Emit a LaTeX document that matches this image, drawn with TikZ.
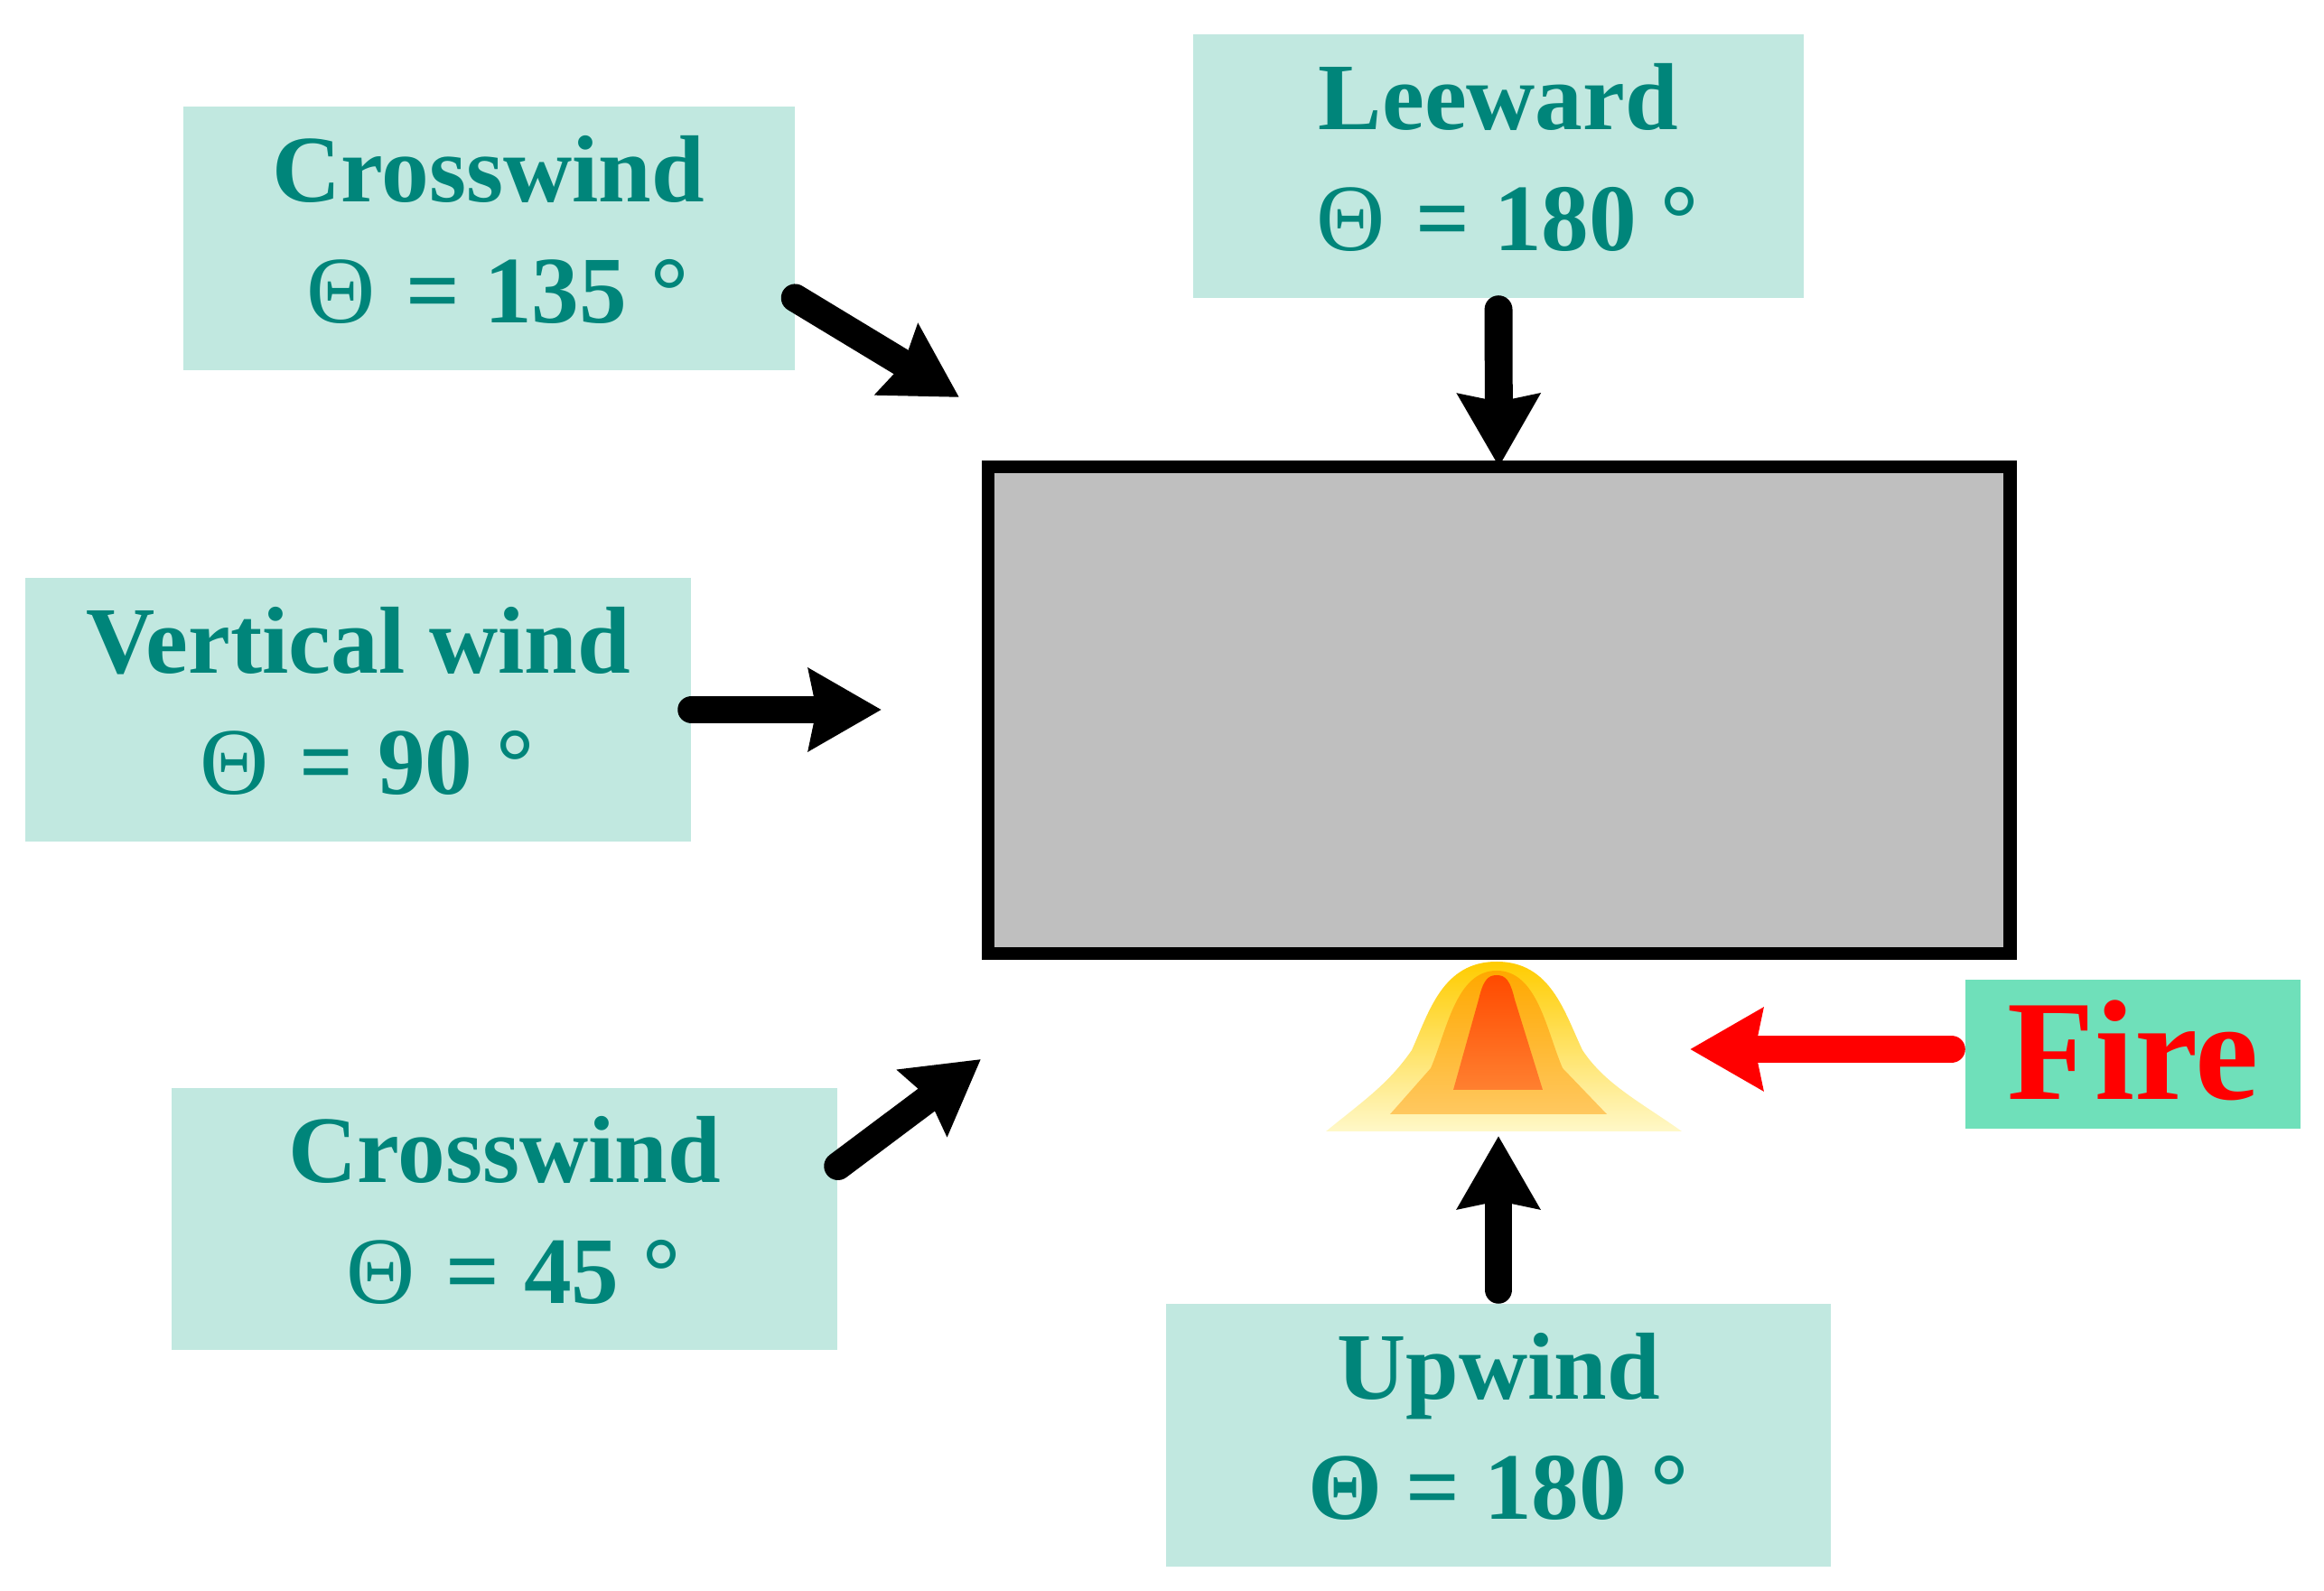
\documentclass[tikz,border=0pt]{standalone}
\usepackage{fontspec}
\setmainfont{Liberation Serif}
\usetikzlibrary{arrows.meta}
\definecolor{boxfill}{HTML}{C1E8E0}
\definecolor{firefill}{HTML}{6FE0BA}
\definecolor{boxtext}{HTML}{00857A}
\definecolor{platefill}{HTML}{BFBFBF}
\newcommand{\thinangle}{\hspace*{0.2cm}{\mdseries Θ}\hspace{0.08cm}}
\tikzset{
  windbox/.style={fill=boxfill,text=boxtext,inner sep=0pt,align=center,
    font=\fontsize{30}{38}\selectfont\bfseries,
    execute at end node={\rule[-0.2cm]{0pt}{0pt}}},
  windarrow/.style={line width=8.8pt,line cap=round,
    -{Stealth[length=0.8cm,width=0.89cm,inset=0.08cm]}},
}
\begin{document}
\begin{tikzpicture}
    \useasboundingbox (0,0) rectangle (25.73,17.61);
    \node[draw=black,fill=platefill,line width=4.25pt,outer sep=0pt,inner sep=0pt,
      minimum width=11.31cm,minimum height=5.39cm] (plate) at (16.595,9.745) {};

    \node[windbox,minimum width=6.77cm,minimum height=2.92cm] (cross135) at (5.41,14.97) {Crosswind\\\thinangle{} = 135 °};
    \node[windbox,minimum width=6.76cm,minimum height=2.92cm] (leeward) at (16.59,15.77) {Leeward\\\thinangle{} = 180 °};
    \node[windbox,minimum width=7.37cm,minimum height=2.92cm] (vertical) at (3.965,9.75) {Vertical wind\\\thinangle{} = 90 °};
    \node[windbox,minimum width=7.37cm,minimum height=2.90cm] (cross45) at (5.585,4.11) {Crosswind\\\thinangle{} = 45 °};
    \node[windbox,minimum width=7.36cm,minimum height=2.91cm] (upwind) at (16.59,1.715) {Upwind\\Θ = 180 °};
    \node[fill=firefill,text=red,inner sep=0pt,minimum width=3.71cm,minimum height=1.65cm,align=center,
      font=\fontsize{45}{50}\selectfont\bfseries,
      execute at end node={\rule[-0.1cm]{0pt}{0pt}}] (fire) at (23.615,5.935) {Fire};

    % flame
    \begin{scope}[shift={(16.57,0)}]
      \shade[top color={rgb,255:red,255;green,204;blue,0},middle color={rgb,255:red,255;green,210;blue,60},
        bottom color={rgb,255:red,255;green,248;blue,200}]
        (-1.89,5.08) .. controls (-1.5,5.4) and (-1.2,5.6) .. (-0.94,5.98)
        .. controls (-0.75,6.4) and (-0.6,6.96) .. (0,6.96)
        .. controls (0.6,6.96) and (0.75,6.4) .. (0.95,5.98)
        .. controls (1.2,5.6) and (1.6,5.4) .. (2.05,5.08) -- cycle;
      \shade[top color={rgb,255:red,255;green,168;blue,0},middle color={rgb,255:red,255;green,188;blue,0},
        bottom color={rgb,255:red,255;green,200;blue,96}]
        (-1.18,5.27) -- (-0.73,5.78) .. controls (-0.55,6.2) and (-0.45,6.86) .. (0,6.86)
        .. controls (0.45,6.86) and (0.55,6.2) .. (0.73,5.78) -- (1.22,5.27) -- cycle;
      \shade[top color={rgb,255:red,255;green,74;blue,0},bottom color={rgb,255:red,255;green,128;blue,48}]
        (-0.48,5.54) -- (-0.2,6.54) .. controls (-0.15,6.75) and (-0.1,6.81) .. (0,6.81)
        .. controls (0.1,6.81) and (0.15,6.75) .. (0.2,6.54) -- (0.51,5.54) -- cycle;
    \end{scope}

    % free ends of the arrows
    \coordinate (tip135) at (10.62,13.21);
    \coordinate (tip90) at (9.76,9.75);
    \coordinate (tip45) at (10.86,5.88);
    \coordinate (tipup) at (16.59,5.03);
    \coordinate (tipfire) at (18.71,5.99);

    \draw[windarrow] (cross135.-11) -- (tip135);
    \draw[windarrow,shorten <=0.12cm] (leeward.south) -- (plate.north);
    \draw[windarrow] (vertical.east) -- (tip90);
    \draw[windarrow] (cross45.9.5) -- (tip45);
    \draw[windarrow,shorten <=0.15cm] (upwind.north) -- (tipup);
    \draw[windarrow,red,shorten <=0.15cm] (fire.west |- tipfire) -- (tipfire);
\end{tikzpicture}
\end{document}
